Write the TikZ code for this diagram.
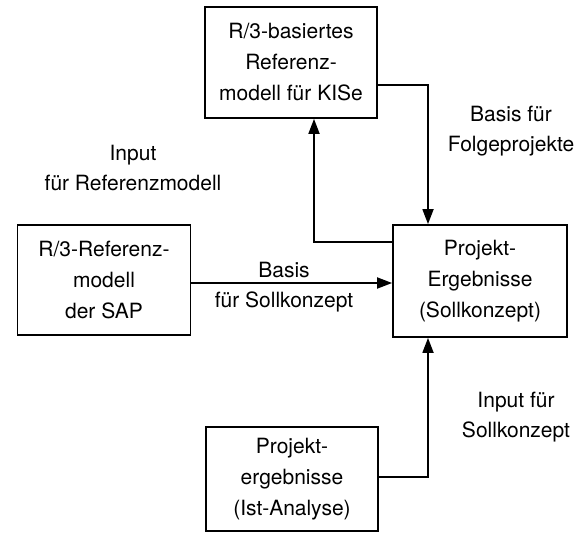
\documentclass[tikz,border=0pt]{standalone}
\usepackage{fontspec}
\setmainfont{TeX Gyre Heros}
\usetikzlibrary{arrows.meta}
\begin{document}
\begin{tikzpicture}[x=1pt,y=-1pt,
  box/.style={draw,line width=1.8pt,inner sep=0pt,align=center,font=\fontsize{21}{31}\selectfont},
  conn/.style={line width=1.8pt,-{Triangle[length=15pt,width=11pt]}},
  lbl/.style={align=center,font=\fontsize{21}{30}\selectfont}]
\useasboundingbox (0,0) rectangle (583,535);
\node[box,minimum width=172pt,minimum height=111pt] (top) at (291,62.5) {R/3-basiertes\\Referenz-\\modell für KISe};
\node[box,minimum width=173pt,minimum height=110pt] (sap) at (104,280) {R/3-Referenz-\\modell\\der SAP};
\node[box,minimum width=174pt,minimum height=112pt] (pe) at (480,281) {Projekt-\\Ergebnisse\\(Sollkonzept)};
\node[box,minimum width=172pt,minimum height=104pt] (ist) at (292,479) {Projekt-\\ergebnisse\\(Ist-Analyse)};
\coordinate (c1) at (428,85);
\coordinate (c2) at (314,242);
\coordinate (c3) at (428,477);
\coordinate (c4) at (0,283);
\draw[conn] (top.east |- c1) -| (pe.north -| c1);
\draw[conn] (pe.west |- c2) -| (top.south -| c2);
\draw[conn] (sap.east |- c4) -- (pe.west |- c4);
\draw[conn] (ist.east |- c3) -| (pe.south -| c3);
\node[lbl] (l1) at (133,168) {Input\\für Referenzmodell};
\node[lbl] (l2) at (511,131) {Basis für\\Folgeprojekte};
\node[lbl] (l3) at (284,287) {Basis\\für Sollkonzept};
\node[lbl] (l4) at (516,417) {Input für\\Sollkonzept};
\end{tikzpicture}
\end{document}
